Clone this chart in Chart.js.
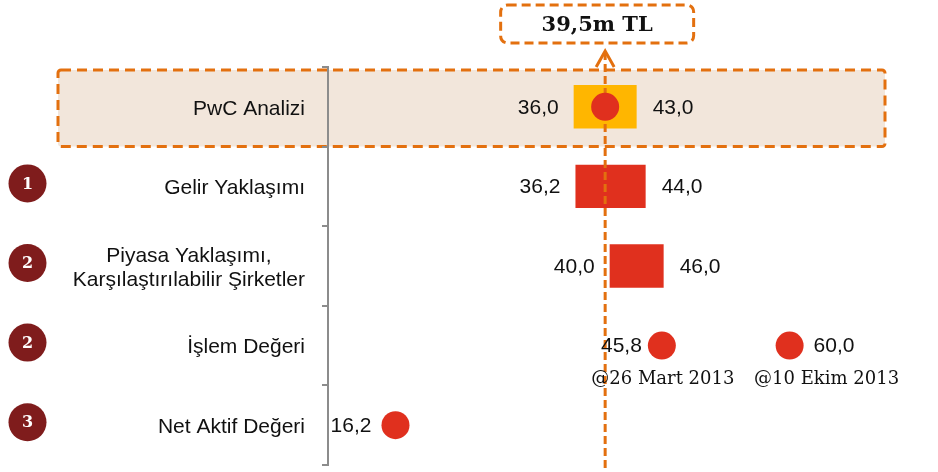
<!DOCTYPE html>
<html><head><meta charset="utf-8">
<script src="https://cdn.jsdelivr.net/npm/chart.js@4/dist/chart.umd.min.js"></script>
<style>html,body{margin:0;padding:0;background:#fff}#wrap{width:938px;height:472px;position:relative}canvas{display:block}</style>
</head><body><div id="wrap"><canvas id="c" width="938" height="472"></canvas></div>
<script>
const categories = ['PwC Analizi', 'Gelir Yaklaşımı', ['Piyasa Yaklaşımı,', 'Karşılaştırılabilir Şirketler'], 'İşlem Değeri', 'Net Aktif Değeri'];
const methodNumbers = [null, '1', '2', '2', '3'];
const rangeLow = [36.0, 36.2, 40.0, null, null];
const rangeHigh = [43.0, 44.0, 46.0, null, null];
const pwcEstimate = 39.5;
const transactionValues = [45.8, 60.0];
const transactionDates = ['@26 Mart 2013', '@10 Ekim 2013'];
const netAssetValue = 16.2;
const headline = '39,5m TL';

const ORANGE = '#E3700F', RED = '#E0301E', YELLOW = '#FFB600', BADGE = '#7F1C1C';
const SANS = '21px "Liberation Sans", Arial, sans-serif';
const fmt = v => v.toFixed(1).replace('.', ',');

const barData = rangeLow.map((l, i) => l == null ? null : [l, rangeHigh[i]]);
const pointsA = [pwcEstimate, null, null, transactionValues[0], netAssetValue];
const pointsB = [null, null, null, transactionValues[1], null];

function roundRect(ctx, x, y, w, h, r) {
  ctx.beginPath();
  ctx.moveTo(x + r, y); ctx.lineTo(x + w - r, y); ctx.arcTo(x + w, y, x + w, y + r, r);
  ctx.lineTo(x + w, y + h - r); ctx.arcTo(x + w, y + h, x + w - r, y + h, r);
  ctx.lineTo(x + r, y + h); ctx.arcTo(x, y + h, x, y + h - r, r);
  ctx.lineTo(x, y + r); ctx.arcTo(x, y, x + r, y, r); ctx.closePath();
}

const deco = {
  id: 'deco',
  beforeDraw(chart) {
    const ctx = chart.ctx, ys = chart.scales.y;
    const band = ys.getPixelForValue(1) - ys.getPixelForValue(0);
    const c0 = ys.getPixelForValue(0);
    const top = c0 - band / 2 + 3, bot = c0 + band / 2;
    ctx.save();
    roundRect(ctx, 58, top, 827, bot - top, 3);
    ctx.fillStyle = '#F2E6DB'; ctx.fill();
    ctx.setLineDash([10, 6]); ctx.lineWidth = 3; ctx.strokeStyle = ORANGE; ctx.stroke();
    ctx.restore();
  },
  afterDatasetDraw(chart, args) {
    if (args.meta.type !== 'bar') return;
    const ctx = chart.ctx, xs = chart.scales.x;
    const x = xs.getPixelForValue(pwcEstimate);
    ctx.save();
    ctx.strokeStyle = ORANGE; ctx.lineWidth = 3;
    ctx.setLineDash([8, 4]);
    ctx.beginPath(); ctx.moveTo(x, 52); ctx.lineTo(x, 472); ctx.stroke();
    ctx.setLineDash([]);
    ctx.beginPath(); ctx.moveTo(x - 9, 67); ctx.lineTo(x, 51); ctx.lineTo(x + 9, 67); ctx.stroke();
    ctx.restore();
  },
  afterDraw(chart) {
    const ctx = chart.ctx, xs = chart.scales.x, ys = chart.scales.y;
    ctx.save();
    ctx.fillStyle = '#111'; ctx.font = SANS; ctx.textBaseline = 'middle';
    categories.forEach((lab, i) => {
      const cy = ys.getPixelForValue(i) + 2;
      if (Array.isArray(lab)) {
        const w = Math.max(...lab.map(s => ctx.measureText(s).width));
        ctx.textAlign = 'center';
        const lh = 23.5, y0 = cy - (lab.length - 1) * lh / 2;
        lab.forEach((s, k) => ctx.fillText(s, 305 - w / 2, y0 + k * lh));
      } else {
        ctx.textAlign = 'right'; ctx.fillText(lab, 305, cy);
      }
      if (methodNumbers[i]) {
        ctx.beginPath(); ctx.arc(27.5, cy - 5, 19, 0, Math.PI * 2);
        ctx.fillStyle = BADGE; ctx.fill();
        ctx.fillStyle = '#fff'; ctx.font = 'bold 16px "DejaVu Serif", Georgia, serif';
        ctx.textAlign = 'center'; ctx.fillText(methodNumbers[i], 27.5, cy - 4);
        ctx.fillStyle = '#111'; ctx.font = SANS;
      }
    });
    rangeLow.forEach((l, i) => {
      if (l == null) return;
      const cy = ys.getPixelForValue(i) + 1;
      ctx.textAlign = 'right'; ctx.fillText(fmt(l), xs.getPixelForValue(l) - 15, cy);
      ctx.textAlign = 'left'; ctx.fillText(fmt(rangeHigh[i]), xs.getPixelForValue(rangeHigh[i]) + 16, cy);
    });
    const R = 14;
    const ty = ys.getPixelForValue(3);
    const t0 = xs.getPixelForValue(transactionValues[0]);
    const t1 = xs.getPixelForValue(transactionValues[1]);
    ctx.textAlign = 'right'; ctx.fillText(fmt(transactionValues[0]), t0 - R - 6, ty + 1);
    ctx.textAlign = 'left'; ctx.fillText(fmt(transactionValues[1]), t1 + R + 10, ty + 1);
    ctx.font = '18px "DejaVu Serif", Georgia, serif'; ctx.textAlign = 'center';
    ctx.fillText(transactionDates[0], t0 + 1, ty + 34);
    ctx.fillText(transactionDates[1], t1 + 37, ty + 34);
    ctx.font = SANS; ctx.textAlign = 'right';
    ctx.fillText(fmt(netAssetValue), xs.getPixelForValue(netAssetValue) - R - 10, ys.getPixelForValue(4) + 1);
    const hx = xs.getPixelForValue(pwcEstimate) - 8;
    roundRect(ctx, hx - 96.5, 5, 193, 38, 7);
    ctx.fillStyle = '#fff'; ctx.fill();
    ctx.setLineDash([9, 5]); ctx.lineWidth = 3; ctx.strokeStyle = ORANGE; ctx.stroke();
    ctx.setLineDash([]);
    ctx.fillStyle = '#111'; ctx.font = 'bold 21px "DejaVu Serif", Georgia, serif';
    ctx.textAlign = 'center'; ctx.fillText(headline, hx, 26);
    ctx.restore();
  }
};

new Chart(document.getElementById('c'), {
  type: 'bar',
  data: {
    labels: categories,
    datasets: [
      { type: 'bar', data: barData, order: 2,
        backgroundColor: [YELLOW, RED, RED, RED, RED], borderWidth: 0,
        barPercentage: 0.545, categoryPercentage: 1 },
      { type: 'line', data: pointsA, order: 1, showLine: false,
        pointRadius: 14, pointBackgroundColor: RED, pointBorderWidth: 0, borderColor: RED },
      { type: 'line', data: pointsB, order: 1, showLine: false,
        pointRadius: 14, pointBackgroundColor: RED, pointBorderWidth: 0, borderColor: RED }
    ]
  },
  options: {
    indexAxis: 'y',
    responsive: false,
    animation: false,
    devicePixelRatio: 1,
    layout: { autoPadding: false, padding: { top: 67, bottom: 7, left: 0, right: 8 } },
    plugins: { legend: { display: false }, tooltip: { enabled: false } },
    scales: {
      x: { type: 'linear', display: false, min: 8.7, max: 75.6 },
      y: {
        type: 'category', offset: true,
        grid: { offset: true, drawOnChartArea: false, drawTicks: true, tickLength: 6, color: '#8c8c8c', lineWidth: 2 },
        border: { display: true, color: '#8c8c8c', width: 2 },
        ticks: { display: false },
        afterFit(s) { s.width = 328; s.paddingTop = 0; s.paddingBottom = 0; }
      }
    }
  },
  plugins: [deco]
});
</script>
</body></html>
